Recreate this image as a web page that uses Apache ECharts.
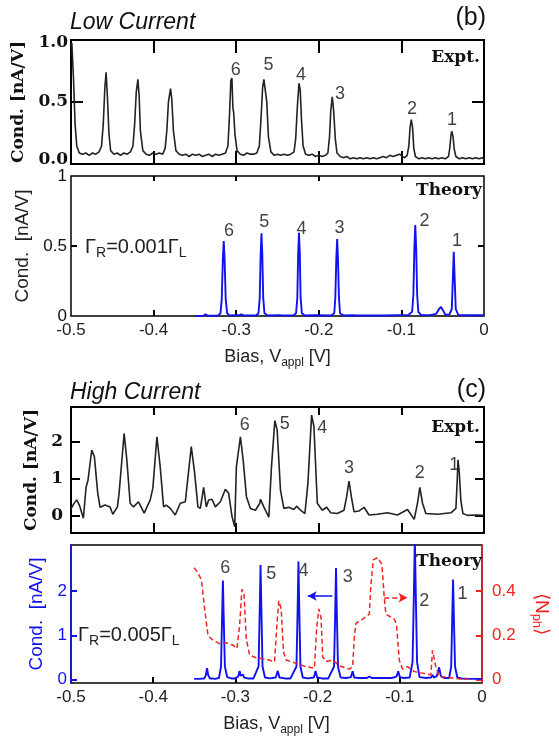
<!DOCTYPE html>
<html>
<head>
<meta charset="utf-8">
<script src="https://cdn.jsdelivr.net/npm/echarts@6/dist/echarts.min.js"></script>
<style>
html, body { margin: 0; padding: 0; background: #fff; }
#chart { width: 559px; height: 737px; }
</style>
</head>
<body>
<div id="chart"></div>
<script>
// ---- data: [bias V, value] ----
const exptLow = [
  [-0.500, 0.98], [-0.499, 1.00], [-0.497, 0.70], [-0.495, 0.30], [-0.493, 0.12], [-0.490, 0.06], [-0.486, 0.05],
  [-0.482, 0.06], [-0.478, 0.04], [-0.474, 0.06], [-0.470, 0.05], [-0.466, 0.07], [-0.463, 0.12], [-0.461, 0.30],
  [-0.459, 0.62], [-0.4575, 0.75], [-0.456, 0.55], [-0.454, 0.22], [-0.452, 0.08], [-0.448, 0.05], [-0.444, 0.06],
  [-0.440, 0.04], [-0.436, 0.06], [-0.432, 0.05], [-0.428, 0.07], [-0.425, 0.12], [-0.423, 0.30], [-0.421, 0.58],
  [-0.419, 0.69], [-0.4175, 0.55], [-0.416, 0.25], [-0.413, 0.08], [-0.409, 0.05], [-0.405, 0.04], [-0.401, 0.06],
  [-0.397, 0.05], [-0.393, 0.06], [-0.389, 0.05], [-0.386, 0.10], [-0.384, 0.25], [-0.382, 0.50], [-0.3795, 0.61],
  [-0.378, 0.52], [-0.376, 0.25], [-0.373, 0.08], [-0.369, 0.05], [-0.365, 0.04], [-0.361, 0.05], [-0.357, 0.03],
  [-0.353, 0.05], [-0.349, 0.04], [-0.345, 0.05], [-0.341, 0.03], [-0.337, 0.04], [-0.333, 0.05], [-0.329, 0.03],
  [-0.325, 0.05], [-0.321, 0.04], [-0.317, 0.05], [-0.313, 0.06], [-0.310, 0.12], [-0.308, 0.40], [-0.3065, 0.68],
  [-0.3052, 0.70], [-0.304, 0.45], [-0.303, 0.40], [-0.3015, 0.22], [-0.299, 0.08], [-0.295, 0.05], [-0.291, 0.04],
  [-0.287, 0.06], [-0.283, 0.05], [-0.279, 0.05], [-0.275, 0.06], [-0.272, 0.12], [-0.270, 0.35], [-0.268, 0.62],
  [-0.2665, 0.69], [-0.265, 0.705], [-0.263, 0.50], [-0.261, 0.20], [-0.258, 0.07], [-0.254, 0.04], [-0.250, 0.05],
  [-0.246, 0.04], [-0.242, 0.05], [-0.238, 0.04], [-0.234, 0.05], [-0.230, 0.07], [-0.228, 0.18], [-0.226, 0.45],
  [-0.224, 0.655], [-0.2225, 0.60], [-0.221, 0.35], [-0.219, 0.12], [-0.216, 0.05], [-0.212, 0.04], [-0.208, 0.05],
  [-0.204, 0.03], [-0.200, 0.04], [-0.196, 0.03], [-0.192, 0.04], [-0.189, 0.06], [-0.187, 0.20], [-0.1855, 0.42],
  [-0.1837, 0.54], [-0.182, 0.42], [-0.180, 0.18], [-0.178, 0.06], [-0.174, 0.03], [-0.170, 0.02], [-0.166, 0.03],
  [-0.162, 0.01], [-0.158, 0.02], [-0.154, 0.01], [-0.150, 0.02], [-0.146, 0.01], [-0.142, 0.02], [-0.138, 0.01],
  [-0.134, 0.02], [-0.130, 0.01], [-0.126, 0.02], [-0.122, 0.03], [-0.118, 0.02], [-0.114, 0.04], [-0.110, 0.03],
  [-0.106, 0.04], [-0.102, 0.05], [-0.099, 0.03], [-0.096, 0.02], [-0.093, 0.04], [-0.091, 0.12], [-0.0895, 0.28],
  [-0.088, 0.345], [-0.0865, 0.28], [-0.085, 0.10], [-0.083, 0.03], [-0.079, 0.01], [-0.075, 0.02], [-0.071, 0.01],
  [-0.067, 0.02], [-0.063, 0.01], [-0.059, 0.02], [-0.055, 0.01], [-0.051, 0.02], [-0.047, 0.01], [-0.043, 0.03],
  [-0.0415, 0.10], [-0.040, 0.21], [-0.039, 0.247], [-0.0375, 0.20], [-0.036, 0.09], [-0.034, 0.03], [-0.030, 0.01],
  [-0.026, 0.02], [-0.022, 0.01], [-0.018, 0.02], [-0.014, 0.01], [-0.010, 0.02], [-0.006, 0.01], [-0.002, 0.02],
  [0.000, 0.01]
];

const theoryLow = [
  [-0.350, 0.0], [-0.340, 0.002], [-0.337, 0.012], [-0.334, 0.002], [-0.322, 0.003], [-0.319, 0.02], [-0.3175, 0.12],
  [-0.3162, 0.40], [-0.3151, 0.535], [-0.314, 0.40], [-0.3127, 0.12], [-0.311, 0.02], [-0.308, 0.004], [-0.300, 0.005],
  [-0.299, 0.012], [-0.297, 0.005], [-0.294, 0.012], [-0.291, 0.004], [-0.276, 0.004], [-0.273, 0.02], [-0.2715, 0.13],
  [-0.2704, 0.44], [-0.2694, 0.59], [-0.2684, 0.44], [-0.2673, 0.13], [-0.2658, 0.02], [-0.262, 0.004], [-0.249, 0.006],
  [-0.248, 0.013], [-0.246, 0.005], [-0.231, 0.004], [-0.2275, 0.02], [-0.226, 0.13], [-0.225, 0.44], [-0.224, 0.594],
  [-0.223, 0.44], [-0.222, 0.13], [-0.2205, 0.02], [-0.217, 0.004], [-0.204, 0.005], [-0.2026, 0.012], [-0.201, 0.005],
  [-0.185, 0.004], [-0.1813, 0.02], [-0.180, 0.13], [-0.1788, 0.41], [-0.1778, 0.549], [-0.1768, 0.41], [-0.1756, 0.13],
  [-0.1743, 0.02], [-0.170, 0.004], [-0.159, 0.005], [-0.1578, 0.012], [-0.156, 0.004], [-0.120, 0.004], [-0.105, 0.006],
  [-0.092, 0.006], [-0.087, 0.03], [-0.0855, 0.15], [-0.0843, 0.48], [-0.0832, 0.649], [-0.0821, 0.48], [-0.0809, 0.15],
  [-0.0795, 0.03], [-0.076, 0.006], [-0.065, 0.006], [-0.058, 0.015], [-0.0545, 0.05], [-0.052, 0.064], [-0.0495, 0.04],
  [-0.047, 0.01], [-0.042, 0.01], [-0.039, 0.05], [-0.0378, 0.25], [-0.0366, 0.458], [-0.0354, 0.25], [-0.0342, 0.05],
  [-0.031, 0.006], [-0.020, 0.005], [0.000, 0.005]
];

const exptHigh = [
  [-0.500, 0.18], [-0.4992, 0.23], [-0.4965, 0.32], [-0.4931, 0.42], [-0.4899, 0.28], [-0.4850, -0.08], [-0.4818, 0.76],
  [-0.4794, 0.96], [-0.4749, 1.78], [-0.4717, 1.60], [-0.4676, 0.60], [-0.4648, 0.22], [-0.4588, 0.28], [-0.4527, 0.23],
  [-0.4494, 0.03], [-0.4438, 0.23], [-0.4417, 0.62], [-0.4357, 2.23], [-0.4324, 1.51], [-0.4284, 0.33], [-0.4243, 0.23],
  [-0.4183, 0.37], [-0.4114, 0.06], [-0.4041, 0.42], [-0.4009, 0.74], [-0.3960, 2.14], [-0.3920, 1.32], [-0.3879, 0.23],
  [-0.3847, 0.28], [-0.3798, 0.19], [-0.3738, 0.01], [-0.3677, 0.33], [-0.3616, 0.37], [-0.3544, 1.87], [-0.3507, 1.23],
  [-0.3463, 0.23], [-0.3434, 0.19], [-0.3394, 0.76], [-0.3362, 0.23], [-0.3333, 0.42], [-0.3293, 0.44], [-0.3252, 0.23],
  [-0.3192, 0.37], [-0.3131, 0.71], [-0.3091, 0.60], [-0.3050, -0.04], [-0.3018, -0.31], [-0.2998, 1.32], [-0.2977, 1.37],
  [-0.2949, 2.14], [-0.2916, 1.51], [-0.2876, 0.51], [-0.2828, 0.19], [-0.2767, 0.14], [-0.2714, 0.33], [-0.2706, 0.44],
  [-0.2666, 0.23], [-0.2605, -0.05], [-0.2573, 1.32], [-0.2532, 2.58], [-0.2504, 2.32], [-0.2464, 0.69], [-0.2423, 0.19],
  [-0.2362, 0.22], [-0.2302, 0.16], [-0.2269, 0.25], [-0.2221, 0.14], [-0.2168, 0.05], [-0.2132, 0.87], [-0.2087, 2.73],
  [-0.2059, 2.42], [-0.2018, 0.33], [-0.1958, 0.14], [-0.1905, 0.22], [-0.1856, 0.07], [-0.1776, 0.05], [-0.1695, 0.14],
  [-0.1663, 0.51], [-0.1634, 0.93], [-0.1606, 0.51], [-0.1574, 0.10], [-0.1513, 0.12], [-0.1452, 0.22], [-0.1392, 0.01],
  [-0.1290, 0.03], [-0.1169, 0.07], [-0.1048, 0.01], [-0.0926, 0.16], [-0.0845, -0.11], [-0.0805, 0.33], [-0.0777, 0.76],
  [-0.0744, 0.33], [-0.0704, 0.05], [-0.0562, 0.03], [-0.0401, 0.07], [-0.0340, 0.19], [-0.0325, 0.90], [-0.0315, 1.51],
  [-0.0300, 1.20], [-0.0280, 0.40], [-0.0255, 0.05], [-0.020, 0.00], [-0.010, 0.01], [0.000, 0.00]
];

const theoryHigh = [
  [-0.3502, 0.02], [-0.345, 0.02], [-0.338, 0.03], [-0.3360, 0.10], [-0.3345, 0.26], [-0.3330, 0.10], [-0.331, 0.03],
  [-0.328, 0.03], [-0.325, 0.02], [-0.320, 0.04], [-0.3175, 0.30], [-0.3162, 1.40], [-0.3152, 2.24], [-0.3142, 1.40],
  [-0.3128, 0.30], [-0.310, 0.06], [-0.305, 0.03], [-0.300, 0.03], [-0.2965, 0.08], [-0.2949, 0.20], [-0.2935, 0.09],
  [-0.2920, 0.08], [-0.2908, 0.12], [-0.2895, 0.05], [-0.285, 0.03], [-0.278, 0.03], [-0.2718, 0.30], [-0.2704, 1.60],
  [-0.2694, 2.59], [-0.2684, 1.60], [-0.2670, 0.30], [-0.264, 0.05], [-0.258, 0.03], [-0.251, 0.05], [-0.2484, 0.20],
  [-0.2465, 0.05], [-0.240, 0.03], [-0.233, 0.03], [-0.2257, 0.30], [-0.2243, 1.60], [-0.2233, 2.67], [-0.2223, 1.60],
  [-0.2209, 0.30], [-0.218, 0.05], [-0.212, 0.03], [-0.2045, 0.05], [-0.2025, 0.20], [-0.2005, 0.05], [-0.195, 0.03],
  [-0.187, 0.03], [-0.1800, 0.30], [-0.1786, 1.50], [-0.1776, 2.52], [-0.1766, 1.50], [-0.1752, 0.30], [-0.172, 0.05],
  [-0.165, 0.04], [-0.1595, 0.06], [-0.1574, 0.19], [-0.1555, 0.05], [-0.150, 0.04], [-0.140, 0.04], [-0.1371, 0.07],
  [-0.134, 0.04], [-0.120, 0.04], [-0.110, 0.04], [-0.104, 0.07], [-0.1019, 0.19], [-0.1000, 0.06], [-0.095, 0.04],
  [-0.088, 0.05], [-0.0845, 0.40], [-0.0830, 1.80], [-0.0817, 3.20], [-0.0804, 1.80], [-0.0790, 0.40], [-0.076, 0.06],
  [-0.068, 0.04], [-0.062, 0.05], [-0.0602, 0.11], [-0.0585, 0.05], [-0.055, 0.08], [-0.0522, 0.28], [-0.050, 0.08],
  [-0.046, 0.04], [-0.040, 0.04], [-0.0375, 0.30], [-0.0362, 1.40], [-0.0352, 2.26], [-0.0342, 1.40], [-0.0328, 0.30],
  [-0.030, 0.05], [-0.025, 0.03], [-0.015, 0.02], [0.000, 0.02]
];

// mean phonon number <N_ph>, right axis
const nph = [
  [-0.3502, 0.505], [-0.3470, 0.490], [-0.3414, 0.452], [-0.3374, 0.319], [-0.3333, 0.200], [-0.3273, 0.178],
  [-0.3192, 0.163], [-0.3111, 0.167], [-0.3030, 0.156], [-0.2981, 0.141], [-0.2949, 0.244], [-0.2921, 0.408],
  [-0.2896, 0.393], [-0.2868, 0.185], [-0.2827, 0.111], [-0.2746, 0.099], [-0.2625, 0.093], [-0.2524, 0.081],
  [-0.2496, 0.244], [-0.2472, 0.356], [-0.2443, 0.319], [-0.2415, 0.126], [-0.2383, 0.089], [-0.2261, 0.074],
  [-0.2140, 0.059], [-0.2039, 0.052], [-0.2010, 0.240], [-0.1985, 0.320], [-0.1958, 0.280], [-0.1938, 0.104],
  [-0.1897, 0.082], [-0.1816, 0.089], [-0.1736, 0.063], [-0.1614, 0.048], [-0.1574, 0.059], [-0.1553, 0.193],
  [-0.1533, 0.255], [-0.1452, 0.274], [-0.1371, 0.296], [-0.1351, 0.430], [-0.1323, 0.541], [-0.1270, 0.551],
  [-0.1218, 0.520], [-0.1189, 0.370], [-0.1169, 0.296], [-0.1068, 0.274], [-0.1040, 0.251], [-0.1007, 0.089],
  [-0.0967, 0.048], [-0.0906, 0.059], [-0.0825, 0.037], [-0.0724, 0.030], [-0.0622, 0.022], [-0.0602, 0.133],
  [-0.0586, 0.141], [-0.0562, 0.059], [-0.0522, 0.015], [-0.0360, 0.008], [-0.0279, 0.004], [-0.015, 0.003]
];

// peak numbers [x, y, text]
const exptLowLabels = [[-0.3004, 0.77, '6'], [-0.261, 0.81, '5'], [-0.2215, 0.73, '4'], [-0.1742, 0.56, '3'], [-0.0871, 0.44, '2'], [-0.0386, 0.345, '1']];
const theoryLowLabels = [[-0.3087, 0.61, '6'], [-0.266, 0.673, '5'], [-0.221, 0.618, '4'], [-0.175, 0.625, '3'], [-0.072, 0.68, '2'], [-0.0327, 0.535, '1']];
const exptHighLabels = [[-0.2897, 2.46, '6'], [-0.2411, 2.49, '5'], [-0.1958, 2.37, '4'], [-0.1634, 1.30, '3'], [-0.0777, 1.16, '2'], [-0.0361, 1.37, '1']];
const theoryHighLabels = [[-0.3123, 2.52, '6'], [-0.2564, 2.39, '5'], [-0.2171, 2.46, '4'], [-0.1634, 2.31, '3'], [-0.0704, 1.78, '2'], [-0.0238, 1.93, '1']];

// tick positions
const biasTicks = [-0.4, -0.3, -0.2, -0.1];

// arrows in panel (c) theory: blue on left axis units, red on right axis units
const blueArrow = [[-0.182, 1.89], [-0.212, 1.89]];
const redArrow = [[-0.119, 0.37], [-0.0906, 0.37]];

const SANS = '"Liberation Sans", Arial, sans-serif';
const SERIF = '"DejaVu Serif", "Liberation Serif", serif';
const BLUE = '#1212ee';
const RED = '#ee2424';

function xAx(gridIndex, position, tickLen, showLabels) {
  return {
    type: 'value', gridIndex: gridIndex, position: position, min: -0.5, max: 0, interval: 0.1,
    axisLine: { show: false, onZero: false },
    axisTick: { show: tickLen > 0, inside: true, length: tickLen, customValues: biasTicks, lineStyle: { color: '#000', width: 2 } },
    axisLabel: { show: showLabels, color: '#222', fontFamily: SANS, fontSize: 17, margin: 6 },
    splitLine: { show: false }
  };
}

const biasName = {
  name: '{a|Bias, V}{s|appl}{a| [V]}', nameLocation: 'middle', nameGap: 29,
  nameTextStyle: { rich: {
    a: { fontFamily: SANS, fontSize: 18, color: '#222' },
    s: { fontFamily: SANS, fontSize: 12, color: '#222', padding: [12, 0, 0, 0] }
  } }
};

function yAx(gridIndex, position, min, max, ticks, labels, o) {
  return Object.assign({
    type: 'value', gridIndex: gridIndex, position: position, min: min, max: max,
    axisLine: { show: false, onZero: false },
    axisTick: { show: true, inside: true, length: 9, customValues: ticks, lineStyle: { color: '#000', width: 2 } },
    axisLabel: { show: !!labels, customValues: labels || [], margin: 4, color: '#111', fontFamily: SANS, fontSize: 17 },
    splitLine: { show: false }
  }, o || {});
}

const boldSerif = { fontFamily: SERIF, fontWeight: 'bold', fontSize: 17, color: '#111' };

const xAxes = [
  xAx(0, 'bottom', 13, false), xAx(0, 'top', 13, false),
  Object.assign(xAx(1, 'bottom', 6, true), biasName), xAx(1, 'top', 5, false),
  xAx(2, 'bottom', 10, false), xAx(2, 'top', 8, false),
  Object.assign(xAx(3, 'bottom', 6, true), biasName), xAx(3, 'top', 0, false)
];

const yAxes = [
  yAx(0, 'left', -0.034, 1.026, [0.5], [0, 0.5, 1], {
    name: 'Cond. [nA/V]', nameLocation: 'middle', nameGap: 36, nameTextStyle: boldSerif
  }),
  yAx(0, 'right', -0.034, 1.026, [0.5], null),
  yAx(1, 'left', 0, 1, [0.5], [0, 0.5, 1], {
    name: 'Cond.  [nA/V]', nameLocation: 'middle', nameGap: 34,
    nameTextStyle: { fontFamily: SANS, fontSize: 19, color: '#222' }
  }),
  yAx(1, 'right', 0, 1, [0.5], null),
  yAx(2, 'left', -0.48, 2.95, [0, 1, 2], [0, 1, 2], {
    name: 'Cond. [nA/V]', nameLocation: 'middle', nameGap: 24, nameTextStyle: boldSerif
  }),
  yAx(2, 'right', -0.48, 2.95, [0, 1, 2], null),
  yAx(3, 'left', -0.073, 3.04, [0, 1, 2], [0, 1, 2], {
    name: 'Cond.  [nA/V]', nameLocation: 'middle', nameGap: 20,
    nameTextStyle: { fontFamily: SANS, fontSize: 19, color: BLUE }
  }),
  yAx(3, 'right', -0.0146, 0.608, [0, 0.2, 0.4], [0, 0.2, 0.4], {
    name: '⟨N{s|ph}⟩', nameLocation: 'middle', nameGap: 48, nameRotate: -90,
    nameTextStyle: { fontFamily: SANS, fontSize: 19, color: RED, rich: { s: { fontFamily: SANS, fontSize: 13, color: RED, padding: [10, 0, 0, 0] } } }
  })
];
// bold serif tick labels for the experimental panels
Object.assign(yAxes[0].axisLabel, boldSerif, { margin: 3, formatter: v => v.toFixed(1) });
Object.assign(yAxes[4].axisLabel, boldSerif, { margin: 8 });
yAxes[0].axisTick.length = 12;
yAxes[1].axisTick.length = 12;
// coloured axes on the last panel
yAxes[6].axisLine = { show: true, onZero: false, lineStyle: { color: BLUE, width: 1.5 } };
yAxes[6].axisLabel.color = BLUE;
yAxes[6].axisTick.lineStyle.color = BLUE;
yAxes[6].axisTick.length = 6;
yAxes[7].axisLine = { show: true, onZero: false, lineStyle: { color: RED, width: 1.5 } };
yAxes[7].axisLabel.color = RED;
yAxes[7].axisLabel.margin = 10;
yAxes[7].axisTick.lineStyle.color = RED;
yAxes[7].axisTick.length = 6;
yAxes[2].axisTick.length = 6;
yAxes[3].axisTick.length = 6;

function peakLabels(data, xi, yi) {
  return {
    type: 'scatter', xAxisIndex: xi, yAxisIndex: yi, symbolSize: 1, silent: true,
    itemStyle: { color: 'transparent' },
    data: data.map(d => ({ value: [d[0], d[1]], name: d[2] })),
    label: { show: true, position: 'inside', formatter: '{b}', color: '#111', fontFamily: SANS, fontSize: 18 }
  };
}

function textBox(text, pos, style) {
  return Object.assign({ text: text, padding: 0, textStyle: style }, pos);
}

const italicTitle = { fontFamily: SANS, fontStyle: 'italic', fontWeight: 'normal', fontSize: 23, color: '#111' };
const panelTag = { fontFamily: SANS, fontWeight: 'normal', fontSize: 25, color: '#111' };
const gammaStyle = { fontWeight: 'normal', rich: {
  g: { fontFamily: SANS, fontWeight: 'normal', fontSize: 20, color: '#222' },
  s: { fontFamily: SANS, fontWeight: 'normal', fontSize: 14, color: '#222', padding: [12, 0, 0, 0] }
} };

const chart = echarts.init(document.getElementById('chart'), null, { renderer: 'canvas' });
chart.setOption({
  animation: false,
  backgroundColor: '#fff',
  title: [
    textBox('Low Current', { left: 70, top: 11 }, italicTitle),
    textBox('(b)', { right: 73, top: 6 }, panelTag),
    textBox('Expt.', { right: 79, top: 49 }, boldSerif),
    textBox('Theory', { right: 77, top: 182 }, boldSerif),
    textBox('{g|Γ}{s|R}{g|=0.001Γ}{s|L}', { left: 85, top: 234 }, gammaStyle),
    textBox('High Current', { left: 70, top: 381 }, italicTitle),
    textBox('(c)', { right: 73, top: 378 }, panelTag),
    textBox('Expt.', { right: 79, top: 419 }, boldSerif),
    textBox('Theory', { right: 77, top: 553 }, boldSerif),
    textBox('{g|Γ}{s|R}{g|=0.005Γ}{s|L}', { left: 78, top: 622 }, gammaStyle)
  ],
  grid: [
    { left: 71, right: 75, top: 40, height: 124, show: true, borderColor: '#000', borderWidth: 2, backgroundColor: 'transparent' },
    { left: 71, right: 75, top: 176, height: 140, show: true, borderColor: '#000', borderWidth: 1.5, backgroundColor: 'transparent' },
    { left: 71, right: 75, top: 407, height: 126, show: true, borderColor: '#000', borderWidth: 2, backgroundColor: 'transparent' },
    { left: 71, right: 75, top: 545, height: 140, show: true, borderColor: '#000', borderWidth: 1.5, backgroundColor: 'transparent' }
  ],
  xAxis: xAxes,
  yAxis: yAxes,
  series: [
    { type: 'line', xAxisIndex: 0, yAxisIndex: 0, data: exptLow, showSymbol: false, lineStyle: { color: '#222', width: 1.6 } },
    { type: 'line', xAxisIndex: 2, yAxisIndex: 2, data: theoryLow, showSymbol: false, lineStyle: { color: BLUE, width: 1.9 } },
    { type: 'line', xAxisIndex: 4, yAxisIndex: 4, data: exptHigh, showSymbol: false, lineStyle: { color: '#222', width: 1.6 } },
    {
      type: 'line', xAxisIndex: 6, yAxisIndex: 6, data: theoryHigh, showSymbol: false, lineStyle: { color: BLUE, width: 1.9 },
      markLine: {
        silent: true, symbol: ['none', 'arrow'], symbolSize: [7, 9], label: { show: false },
        lineStyle: { color: BLUE, width: 1.5, type: 'solid' },
        data: [[{ coord: blueArrow[0] }, { coord: blueArrow[1] }]]
      }
    },
    {
      type: 'line', xAxisIndex: 6, yAxisIndex: 7, data: nph, showSymbol: false,
      lineStyle: { color: RED, width: 1.5, type: [5, 3] },
      markLine: {
        silent: true, symbol: ['none', 'arrow'], symbolSize: [7, 9], label: { show: false },
        lineStyle: { color: RED, width: 1.5, type: [5, 3] },
        data: [[{ coord: redArrow[0] }, { coord: redArrow[1] }]]
      }
    },
    peakLabels(exptLowLabels, 0, 0),
    peakLabels(theoryLowLabels, 2, 2),
    peakLabels(exptHighLabels, 4, 4),
    peakLabels(theoryHighLabels, 6, 6)
  ]
});
</script>
</body>
</html>
